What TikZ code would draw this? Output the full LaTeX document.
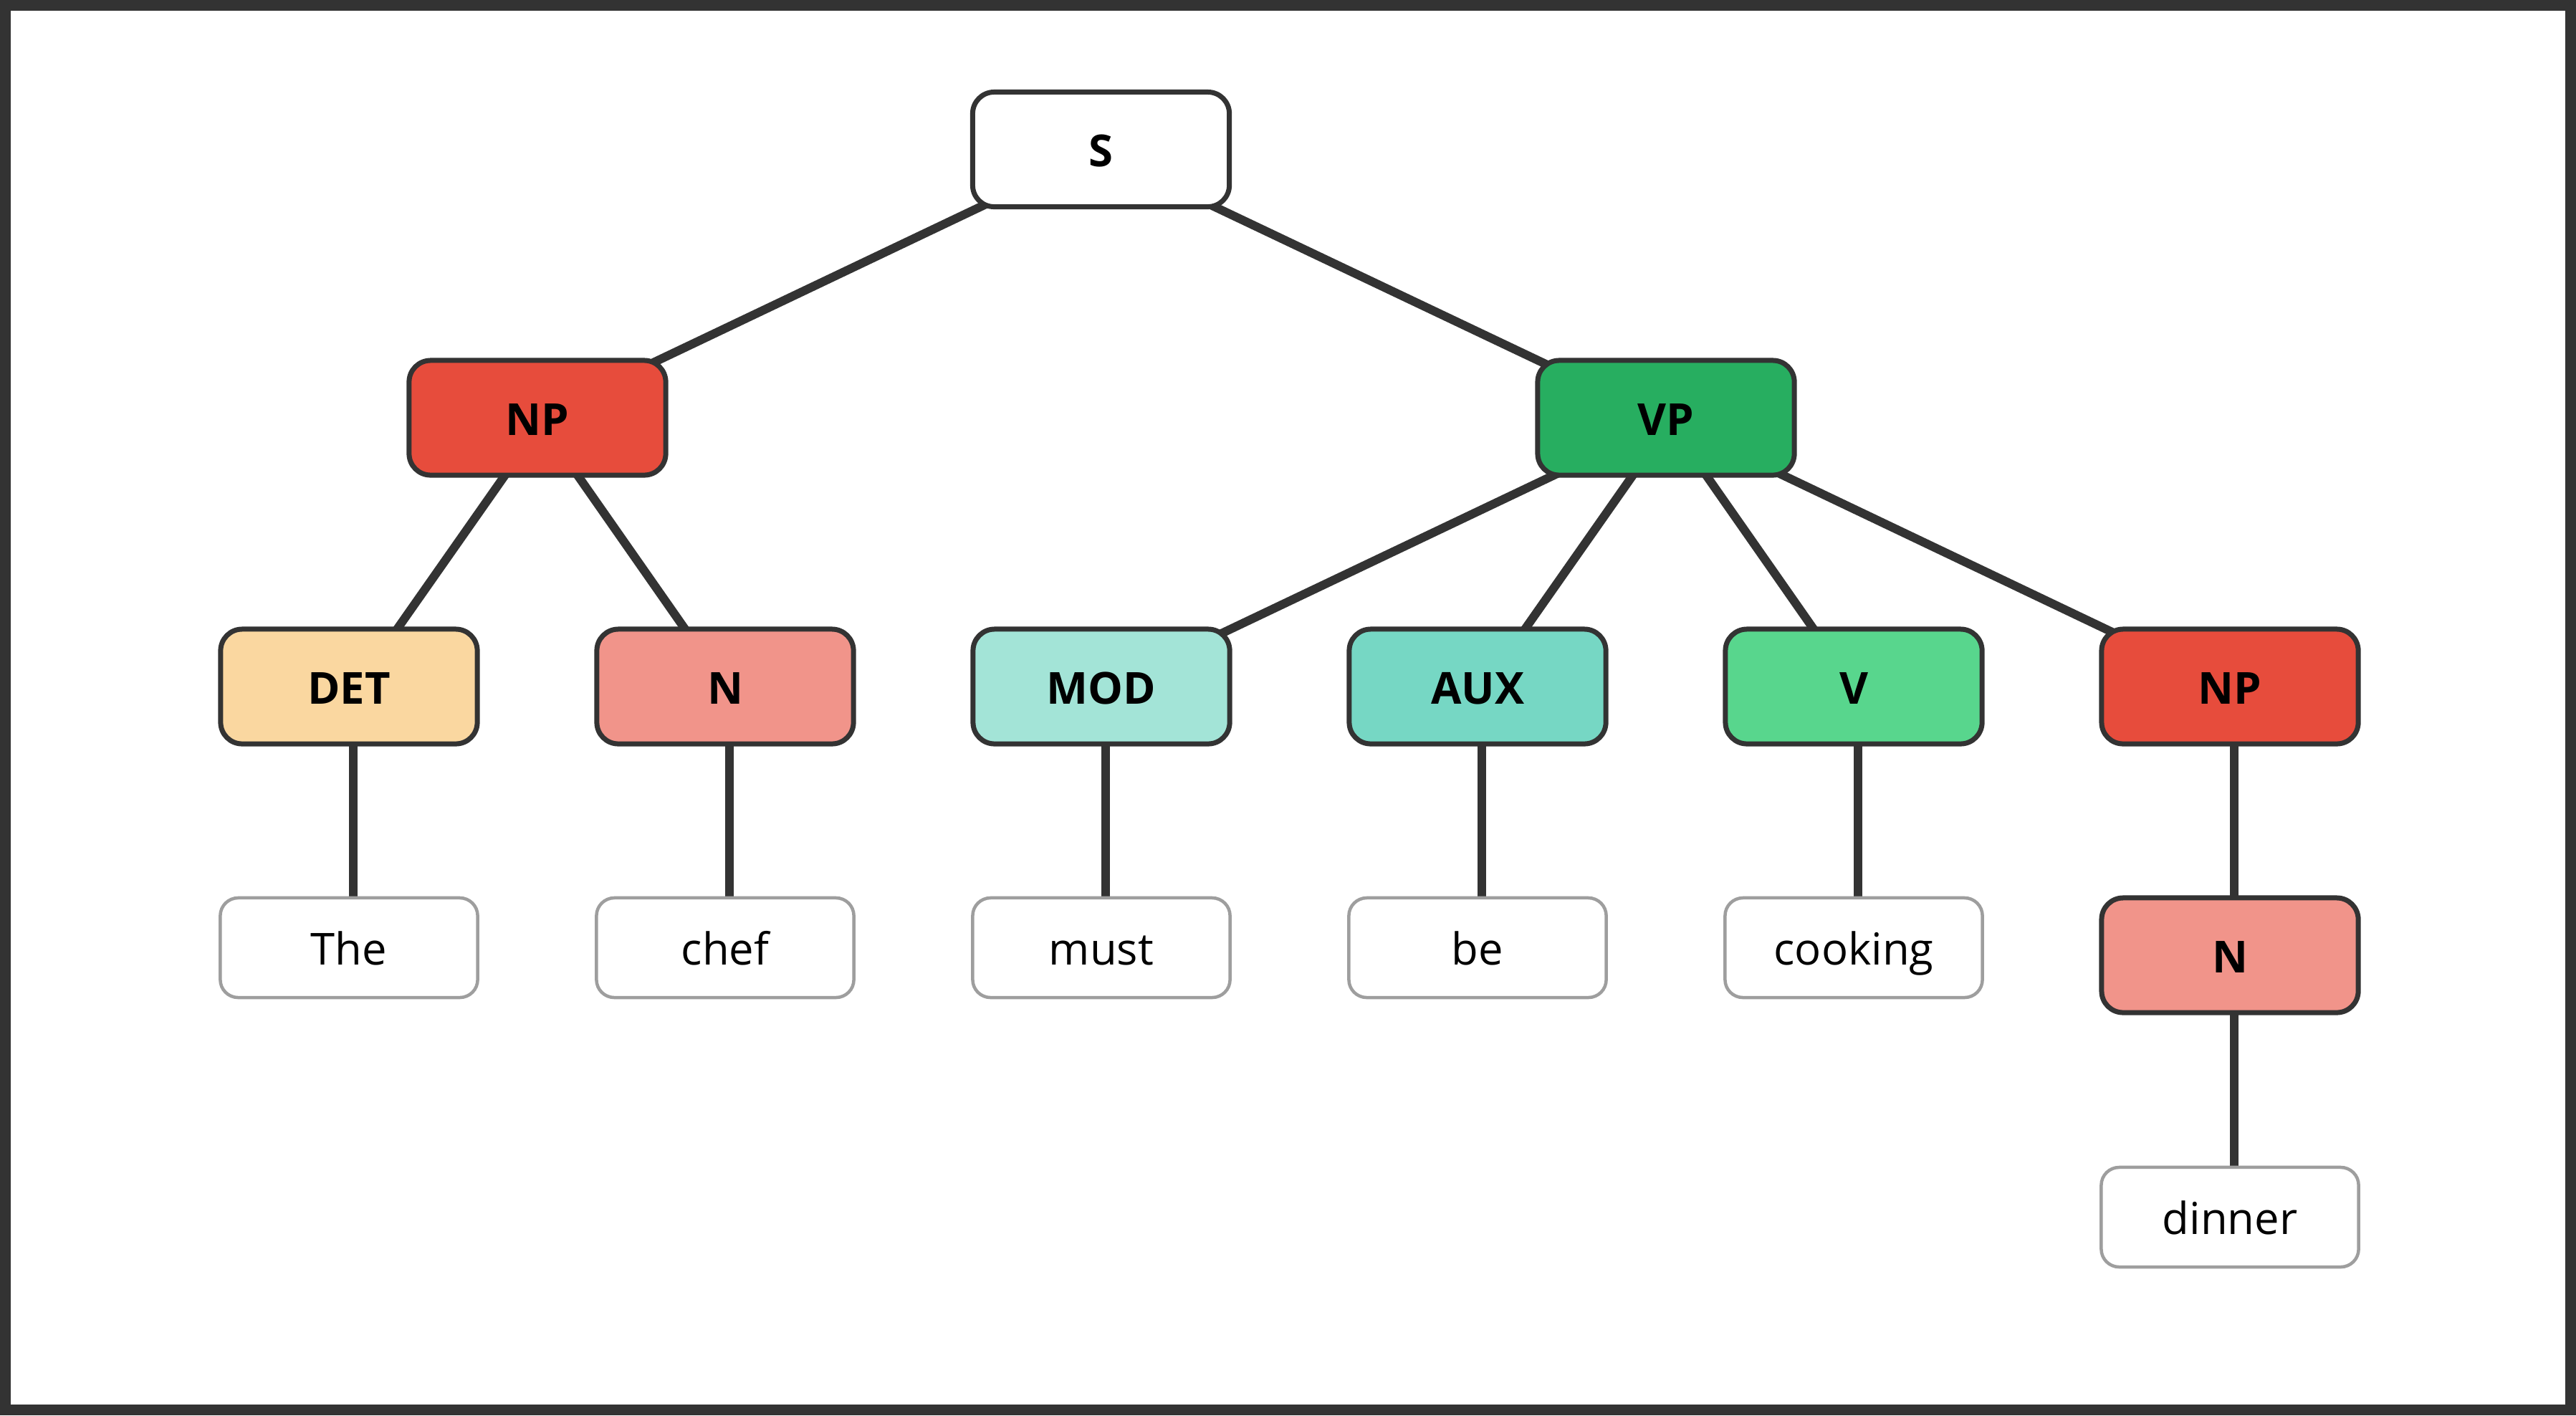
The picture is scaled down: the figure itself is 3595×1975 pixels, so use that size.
\documentclass[tikz,border=0pt]{standalone}
\usepackage{fontspec}
\setmainfont{Open Sans}
\usetikzlibrary{backgrounds}
\definecolor{edgec}{HTML}{333333}
\definecolor{leafc}{HTML}{9E9E9E}
\definecolor{cNP}{HTML}{E74C3C}
\definecolor{cVP}{HTML}{27AE60}
\definecolor{cDET}{HTML}{FAD7A0}
\definecolor{cN}{HTML}{F1948A}
\definecolor{cMOD}{HTML}{A3E4D7}
\definecolor{cAUX}{HTML}{76D7C4}
\definecolor{cV}{HTML}{58D68D}
\tikzset{
  cat/.style={draw=edgec, line width=0.07cm, rounded corners=0.3cm,
    minimum width=3.58cm, minimum height=1.6cm, inner sep=0pt,
    text height=0.48cm, text depth=0cm,
    font=\fontsize{17.5}{20}\selectfont\bfseries, text=black},
  word/.style={draw=leafc, fill=white, line width=0.045cm, rounded corners=0.25cm,
    minimum width=3.59cm, minimum height=1.39cm, inner sep=0pt,
    text height=0.48cm, text depth=0cm,
    font=\fontsize{17.5}{20}\selectfont, text=black},
  branch/.style={draw=edgec, line width=0.12cm},
  frame/.style={draw=edgec, line width=0.15cm}
}
\begin{document}
\begin{tikzpicture}[x=0.01cm, y=-0.01cm]
\useasboundingbox (0,0) rectangle (3595,1975);
% phrase nodes
\node[cat, fill=white] (s) at (1536.5,208.5) {S};
\node[cat, fill=cNP] (np1) at (750,583) {NP};
\node[cat, fill=cVP] (vp) at (2325,583) {VP};
\node[cat, fill=cDET] (det) at (487,958) {DET};
\node[cat, fill=cN] (n1) at (1012,958) {N};
\node[cat, fill=cMOD] (mod) at (1537,958) {MOD};
\node[cat, fill=cAUX] (aux) at (2062,958) {AUX};
\node[cat, fill=cV] (v) at (2587,958) {V};
\node[cat, fill=cNP] (np2) at (3112,958) {NP};
\node[cat, fill=cN] (n2) at (3112,1333) {N};
% words
\node[word] (wthe) at (487,1322.5) {The};
\node[word] (wchef) at (1012,1322.5) {chef};
\node[word] (wmust) at (1537,1322.5) {must};
\node[word] (wbe) at (2062,1322.5) {be};
\node[word] (wcook) at (2587,1322.5) {cooking};
\node[word] (wdin) at (3112,1698.5) {dinner};
\begin{pgfonlayer}{background}
\fill[white] (0,0) rectangle (3595,1975);
\draw[branch] (s.center) -- (np1.center);
\draw[branch] ([xshift=-0.1cm]s.center) -- ([xshift=-0.1cm]vp.center);
\draw[branch] ([xshift=0.11cm]np1.center) -- ([xshift=0.11cm]det.center);
\draw[branch] (np1.center) -- (n1.center);
\draw[branch] ([xshift=0.12cm]vp.center) -- ([xshift=0.12cm]mod.center);
\draw[branch] ([xshift=0.1cm]vp.center) -- ([xshift=0.1cm]aux.center);
\draw[branch] (vp.center) -- (v.center);
\draw[branch] ([xshift=-0.05cm]vp.center) -- ([xshift=-0.05cm]np2.center);
\draw[branch] ([xshift=0.06cm]det.center) -- ([xshift=0.06cm]wthe.center);
\draw[branch] ([xshift=0.06cm]n1.center) -- ([xshift=0.06cm]wchef.center);
\draw[branch] ([xshift=0.06cm]mod.center) -- ([xshift=0.06cm]wmust.center);
\draw[branch] ([xshift=0.06cm]aux.center) -- ([xshift=0.06cm]wbe.center);
\draw[branch] ([xshift=0.06cm]v.center) -- ([xshift=0.06cm]wcook.center);
\draw[branch] ([xshift=0.06cm]np2.center) -- ([xshift=0.06cm]n2.center);
\draw[branch] ([xshift=0.06cm]n2.center) -- ([xshift=0.06cm]wdin.center);
\end{pgfonlayer}
\draw[frame] (7.5,7.5) rectangle (3587.5,1967.5);
\end{tikzpicture}
\end{document}
